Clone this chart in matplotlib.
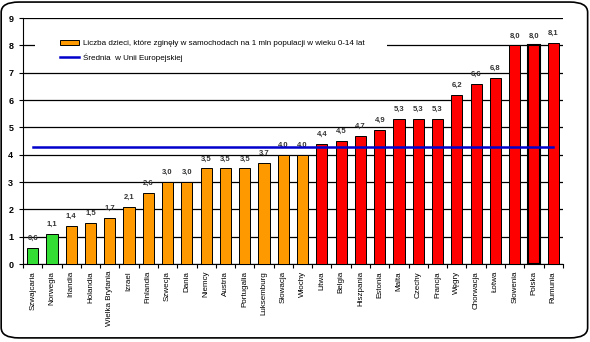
import matplotlib.pyplot as plt
from matplotlib.patches import FancyBboxPatch, Patch, Rectangle
from matplotlib.lines import Line2D

countries = ['Szwajcaria', 'Norwegia', 'Irlandia', 'Holandia', 'Wielka Brytania', 'Izrael',
             'Finlandia', 'Szwecja', 'Dania', 'Niemcy', 'Austria', 'Portugalia', 'Luksemburg',
             'Słowacja', 'Włochy', 'Litwa', 'Belgia', 'Hiszpania', 'Estonia', 'Malta', 'Czechy',
             'Francja', 'Węgry', 'Chorwacja', 'Łotwa', 'Słowenia', 'Polska', 'Rumunia']
values = [0.6, 1.1, 1.4, 1.5, 1.7, 2.1, 2.6, 3.0, 3.0, 3.5, 3.5, 3.5, 3.7, 4.0, 4.0,
          4.4, 4.5, 4.7, 4.9, 5.3, 5.3, 5.3, 6.2, 6.6, 6.8, 8.0, 8.0, 8.1]
groups = ['g'] * 2 + ['o'] * 13 + ['r'] * 13
eu_average = 4.3

colors = {'g': '#33dd33', 'o': '#ff9900', 'r': '#ff0000'}
font = ['Liberation Sans', 'DejaVu Sans']

fig = plt.figure(figsize=(5.9, 3.42), dpi=100)
fig.patches.append(FancyBboxPatch((0.002, 0.012), 0.994, 0.982, boxstyle='round,pad=0,rounding_size=0.03',
                                  transform=fig.transFigure, fill=False, edgecolor='black', linewidth=1.2))
ax = fig.add_axes([0.039, 0.228, 0.915, 0.719])

x = list(range(len(countries)))
bars = ax.bar(x, values, width=0.58, color=[colors[g] for g in groups], edgecolor='black',
              linewidth=0.7, zorder=3)
bars[26].set_linewidth(1.5)
for xi, v in zip(x, values):
    ax.text(xi, v + 0.22, f'{v:.1f}'.replace('.', ','), ha='center', va='bottom', fontsize=5.5,
            fontweight='bold', family=font, color='#333333', zorder=4)

ax.plot([x[0], x[-1]], [eu_average, eu_average], color='#0000cc', linewidth=1.8, zorder=5)

ax.set_xlim(-0.5, len(countries) - 0.5)
ax.set_ylim(0, 9)
ax.set_yticks(range(10))
ax.set_yticklabels([str(i) for i in range(10)], fontsize=6.5, fontweight='bold', family=font)
ax.yaxis.grid(True, color='black', linewidth=0.9, zorder=0)
ax.set_xticks([i - 0.5 for i in range(len(countries) + 1)])
ax.set_xticklabels([])
ax.set_xticks(x, minor=True)
ax.set_xticklabels(countries, minor=True, rotation=90, fontsize=5.8, family=font)
ax.tick_params(axis='x', which='minor', length=0, pad=5)
ax.tick_params(axis='x', which='major', length=3)
ax.tick_params(axis='y', length=3, pad=4)
for side in ['top', 'right']:
    ax.spines[side].set_visible(False)

# white box behind the legend hides the gridline at 8
ax.add_patch(Rectangle((0.022, 7.3), 0.652, 1.4, transform=ax.get_yaxis_transform(),
                       facecolor='white', edgecolor='none', zorder=2))
handles = [Patch(facecolor='#ff9900', edgecolor='black', linewidth=0.7),
           Line2D([0], [0], color='#0000cc', linewidth=1.8)]
labels = ['Liczba dzieci, które zginęły w samochodach na 1 mln populacji w wieku 0-14 lat',
          'Średnia  w Unii Europejskiej']
leg = ax.legend(handles, labels, loc='upper left', bbox_to_anchor=(0.068, 0.912),
                prop={'family': font, 'size': 5.8}, frameon=False, handlelength=2.4,
                handleheight=0.55, borderpad=0, borderaxespad=0, labelspacing=0.8,
                handletextpad=0.5)
leg.set_zorder(6)

fig.savefig('out.png', dpi=100)
